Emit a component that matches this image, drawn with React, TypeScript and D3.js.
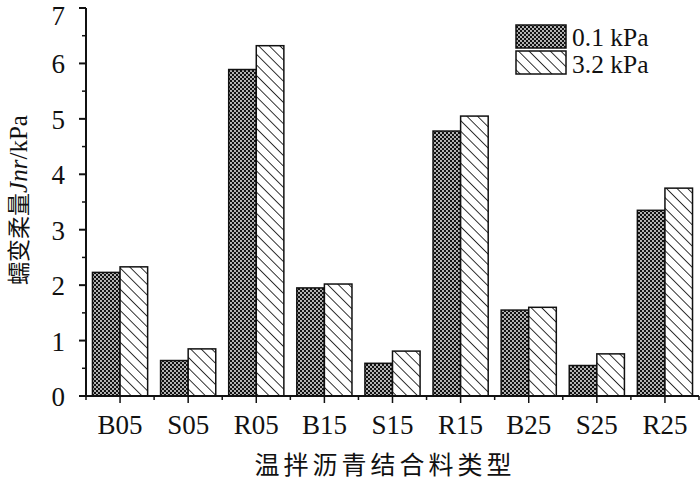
import React from "react";
import * as d3 from "d3";

const categories = ["B05", "S05", "R05", "B15", "S15", "R15", "B25", "S25", "R25"];
const series01 = [2.23, 0.64, 5.89, 1.95, 0.59, 4.78, 1.55, 0.55, 3.35];
const series32 = [2.33, 0.85, 6.32, 2.02, 0.81, 5.05, 1.6, 0.76, 3.75];
const seriesNames = ["0.1 kPa", "3.2 kPa"];
const yTicks = [0, 1, 2, 3, 4, 5, 6, 7];

const W = 700, H = 480;
const left = 86, right = 699, top = 8, bottom = 396;

export default function App() {
  const x = d3.scaleBand<string>().domain(categories).range([left, right]).paddingInner(0).paddingOuter(0);
  const bw = x.bandwidth();
  const groupW = bw * 0.81;
  const xs = d3.scaleBand<string>().domain(["a", "b"]).range([0, groupW]).padding(0);
  const y = d3.scaleLinear().domain([0, 7]).range([bottom, top]);
  const minor = d3.range(0.5, 7, 1);
  const serif = "'Liberation Serif', 'Times New Roman', serif";
  const cjk = "'Noto Sans CJK SC', sans-serif";

  return (
    <svg width={W} height={H} style={{ display: "block", position: "absolute", left: 0, top: 0 }}>
      <defs>
        <pattern id="dots" width="4" height="4" patternUnits="userSpaceOnUse">
          <rect width="4" height="4" fill="#111" />
          <circle cx="1" cy="1" r="0.9" fill="#fff" />
          <circle cx="3" cy="3" r="0.9" fill="#fff" />
        </pattern>
        <pattern id="hatch" width="7.5" height="7.5" patternUnits="userSpaceOnUse" patternTransform="rotate(-45)">
          <rect width="7.5" height="7.5" fill="#fff" />
          <line x1="0" y1="0" x2="0" y2="7.5" stroke="#111" strokeWidth="1.7" />
        </pattern>
      </defs>
      <rect width={W} height={H} fill="#fff" />
      {categories.map((c, i) => {
        const x0 = (x(c) as number) + (bw - groupW) / 2;
        return (
          <g key={c}>
            <rect x={x0 + (xs("a") as number)} y={y(series01[i])} width={xs.bandwidth()} height={bottom - y(series01[i])}
              fill="url(#dots)" stroke="#111" strokeWidth={1.5} />
            <rect x={x0 + (xs("b") as number)} y={y(series32[i])} width={xs.bandwidth()} height={bottom - y(series32[i])}
              fill="url(#hatch)" stroke="#111" strokeWidth={1.5} />
          </g>
        );
      })}
      {/* y axis */}
      <line x1={left} x2={left} y1={top} y2={bottom} stroke="#111" strokeWidth={2} />
      {yTicks.map((t) => (
        <g key={t}>
          <line x1={left - 7} x2={left} y1={y(t)} y2={y(t)} stroke="#111" strokeWidth={2} />
          <text x={left - 21} y={Math.max(y(t) + 10, 25)} textAnchor="end" fontFamily={serif} fontSize={27} fill="#111">{t}</text>
        </g>
      ))}
      {minor.map((t) => (
        <line key={t} x1={left - 4} x2={left} y1={y(t)} y2={y(t)} stroke="#111" strokeWidth={1.5} />
      ))}
      {/* x axis */}
      <line x1={left - 1} x2={right} y1={bottom} y2={bottom} stroke="#111" strokeWidth={2} />
      {categories.map((c) => {
        const cx = (x(c) as number) + bw / 2;
        return (
          <g key={c}>
            <line x1={cx} x2={cx} y1={bottom} y2={bottom + 7} stroke="#111" strokeWidth={1.5} />
            <line x1={x(c) as number} x2={x(c) as number} y1={bottom} y2={bottom + 4} stroke="#111" strokeWidth={1.5} />
            <text x={cx} y={bottom + 38} textAnchor="middle" fontFamily={serif} fontSize={27} fill="#111">{c}</text>
          </g>
        );
      })}
      <line x1={right} x2={right} y1={bottom} y2={bottom + 4} stroke="#111" strokeWidth={1.5} />
      {/* axis titles */}
      <text x={385} y={474} textAnchor="middle" fontFamily={cjk} fontSize={25} letterSpacing={4} fill="#111">温拌沥青结合料类型</text>
      <text transform={`translate(27,${200}) rotate(-90)`} textAnchor="middle" fontSize={23} fill="#111">
        <tspan fontFamily={cjk}>蠕变柔量</tspan>
        <tspan fontFamily={serif} fontStyle="italic" fontSize={25}>Jnr</tspan>
        <tspan fontFamily={serif} fontSize={25}>/kPa</tspan>
      </text>
      {/* legend */}
      {seriesNames.map((n, i) => (
        <g key={n}>
          <rect x={516} y={25 + i * 26} width={50} height={23} fill={i === 0 ? "url(#dots)" : "url(#hatch)"} stroke="#111" strokeWidth={1.5} />
          <text x={572} y={46 + i * 27} fontFamily={serif} fontSize={25.5} fill="#111">{n}</text>
        </g>
      ))}
    </svg>
  );
}
